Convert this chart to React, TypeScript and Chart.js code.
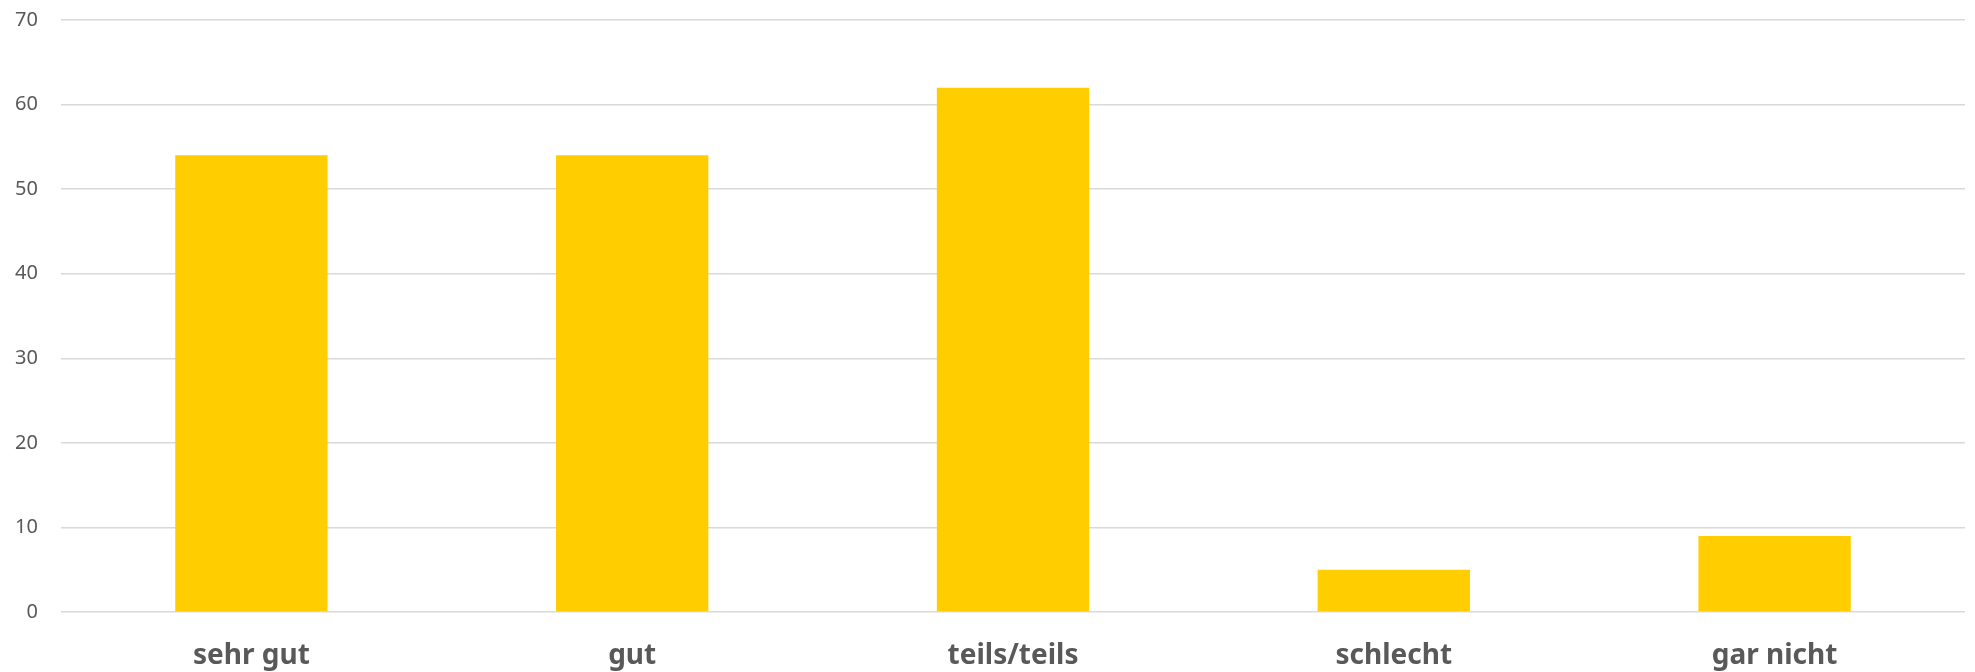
import React, { useEffect, useRef } from "react";
import { Chart, registerables } from "chart.js";

Chart.register(...registerables);

const categories = ["sehr gut", "gut", "teils/teils", "schlecht", "gar nicht"];
const values = [54, 54, 62, 5, 9];
const yTicks = [0, 10, 20, 30, 40, 50, 60, 70];

export default function App() {
  const ref = useRef<HTMLCanvasElement>(null);
  useEffect(() => {
    document.body.style.margin = "0";
    const chart = new Chart(ref.current!, {
      type: "bar",
      data: {
        labels: categories,
        datasets: [
          {
            data: values,
            backgroundColor: "#FFCD00",
            borderWidth: 0,
            barPercentage: 0.4,
            categoryPercentage: 1,
          },
        ],
      },
      options: {
        animation: false,
        responsive: false,
        layout: { padding: { top: 20, right: 10, left: 0, bottom: 0 } },
        plugins: { legend: { display: false }, tooltip: { enabled: false } },
        scales: {
          x: {
            grid: { display: false, drawTicks: false },
            border: { display: false },
            ticks: {
              color: "#595959",
              font: { family: "Noto Sans", size: 28, weight: "bold" },
              padding: 27,
            },
            afterFit: (s: any) => {
              s.height = 60;
              s.paddingTop = 0;
              s.paddingBottom = 0;
            },
          },
          y: {
            min: 0,
            max: 70,
            afterBuildTicks: (s: any) => {
              s.ticks = yTicks.map((v) => ({ value: v }));
            },
            grid: { color: "#D9D9D9", lineWidth: 1.5, drawTicks: false },
            border: { display: false },
            ticks: {
              color: "#595959",
              font: { family: "Noto Sans", size: 20 },
              padding: 23,
            },
            afterFit: (s: any) => {
              s.width = 61;
              s.paddingTop = 0;
              s.paddingBottom = 0;
            },
          },
        },
      },
    });
    return () => chart.destroy();
  }, []);
  return <canvas ref={ref} width={1975} height={672} style={{ display: "block" }} />;
}
